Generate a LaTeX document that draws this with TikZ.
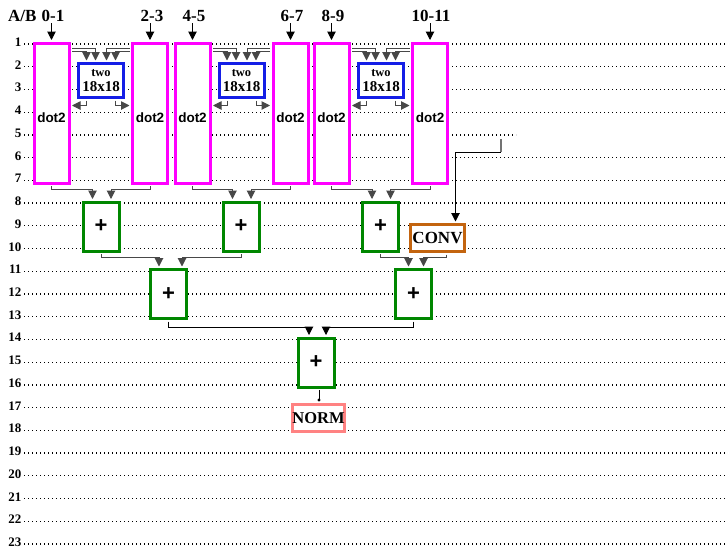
\documentclass[tikz,border=0pt]{standalone}
\usepackage{fontspec}
\setmainfont{Liberation Serif}
\newfontfamily\arialf{Liberation Sans}
\usetikzlibrary{arrows.meta,calc}
\definecolor{mag}{RGB}{255,0,255}
\definecolor{blu}{RGB}{20,30,230}
\definecolor{grn}{RGB}{0,135,0}
\definecolor{brn}{RGB}{195,100,15}
\definecolor{pnk}{RGB}{255,130,130}
\begin{document}
\begin{tikzpicture}[x=1pt,y=-1pt,
  boxbase/.style={line width=3pt,fill=white,inner sep=0pt},
  dotbox/.style={boxbase,draw=mag,minimum width=35pt,minimum height=140pt,text height=19pt,text depth=0pt,font=\arialf\bfseries\fontsize{13.5}{13.5}\selectfont},
  twobox/.style={boxbase,draw=blu,minimum width=45pt,minimum height=34pt,align=center,font=\bfseries},
  plusbox/.style={boxbase,draw=grn,minimum width=36pt,minimum height=49pt,font=\arialf\bfseries\fontsize{22}{22}\selectfont},
  convbox/.style={boxbase,draw=brn,minimum width=54pt,minimum height=27pt,font=\bfseries\fontsize{17}{17}\selectfont},
  normbox/.style={boxbase,draw=pnk,minimum width=52pt,minimum height=27pt,font=\bfseries\fontsize{16.5}{16.5}\selectfont},
  rowline/.style={line width=1.2pt,dash pattern=on 1.2pt off 2.8pt},
  rowlab/.style={anchor=base east,inner sep=0pt,font=\bfseries\fontsize{13}{13}\selectfont},
  hdr/.style={anchor=base,inner sep=0pt,font=\bfseries\fontsize{17}{17}\selectfont},
  conn/.style={draw=black!72,line width=1pt,shorten <=1.5pt},
  arr/.style={conn,-{Triangle[length=8.5pt,width=8.5pt]},shorten >=1.5pt},
]
\useasboundingbox (0,0) rectangle (725,547);
\fill[white] (0,0) rectangle (725,547);

% rows
\foreach \k in {1,...,23}{
  \pgfmathsetmacro\yy{44+(\k-1)*22.727}
  \node[rowlab] (r\k) at (21.5,\yy+2.5) {\k};
  \ifnum\k=5
    \draw[rowline] (24,\yy) -- (516,\yy);
  \else
    \draw[rowline] (24,\yy) -- (725,\yy);
  \fi
}

% headers
\node[hdr,anchor=base west] (hab) at (8,21) {A/B};
\node[hdr] (h1) at (53,21) {0-1};
\node[hdr] (h2) at (152,21) {2-3};
\node[hdr] (h3) at (194,21) {4-5};
\node[hdr] (h4) at (292,21) {6-7};
\node[hdr] (h5) at (333,21) {8-9};
\node[hdr] (h6) at (431,21) {10-11};

% dot2 boxes
\node[dotbox] (d1) at (51.5,113) {dot2};
\node[dotbox] (d2) at (150,113) {dot2};
\node[dotbox] (d3) at (192.5,113) {dot2};
\node[dotbox] (d4) at (290.5,113) {dot2};
\node[dotbox] (d5) at (331.5,113) {dot2};
\node[dotbox] (d6) at (430,113) {dot2};

% two 18x18 boxes
\node[twobox] (t1) at (101,80.5) {\fontsize{12.5}{12.5}\selectfont two\\[3.5pt]\fontsize{15}{15}\selectfont 18x18};
\node[twobox] (t2) at (241.5,80.5) {\fontsize{12.5}{12.5}\selectfont two\\[3.5pt]\fontsize{15}{15}\selectfont 18x18};
\node[twobox] (t3) at (381,80.5) {\fontsize{12.5}{12.5}\selectfont two\\[3.5pt]\fontsize{15}{15}\selectfont 18x18};

% adders
\node[plusbox] (p1) at (101,226.5) {+};
\node[plusbox] (p2) at (241,226.5) {+};
\node[plusbox] (p3) at (380.5,226.5) {+};
\node[plusbox] (p4) at (168.5,294) {+};
\node[plusbox] (p5) at (413.5,294) {+};
\node[plusbox] (p6) at (316,362.5) {+};
\node[convbox] (conv) at (437.5,238) {CONV};
\node[normbox] (norm) at (318.5,418) {NORM};

% input arrows
\foreach \i in {1,...,6}{
  \draw[arr,draw=black,shorten <=0pt] (d\i.north |- 0,23) -- (d\i.north);
}

% two-box connectors
\foreach \a/\t/\b in {d1/t1/d2,d3/t2/d4,d5/t3/d6}{
  \draw[arr] ($(\a.north east)+(0,6.5)$) -| ($(\t.north)+(-5.5,0)$);
  \draw[arr] ($(\a.north east)+(0,9.5)$) -| ($(\t.north)+(-14.5,0)$);
  \draw[arr] ($(\b.north west)+(0,6.5)$) -| ($(\t.north)+(5.5,0)$);
  \draw[arr] ($(\b.north west)+(0,9.5)$) -| ($(\t.north)+(14.5,0)$);
  \draw[arr] ($(\t.south)+(-14.5,0)$) |- ($(\a.north east)+(0,64)$);
  \draw[arr] ($(\t.south)+(14.5,0)$) |- ($(\b.north west)+(0,64)$);
}

% dot2 -> adders
\foreach \a/\p/\b in {d1/p1/d2,d3/p2/d4,d5/p3/d6}{
  \draw[arr] (\a.south) -- ++(0,4.5) -| ($(\p.north)+(-8.5,0)$);
  \draw[arr] (\b.south) -- ++(0,4.5) -| ($(\p.north)+(10,0)$);
}

% level 2
\draw[arr] (p1.south) -- ++(0,5) -| ($(p4.north)+(-9.5,0)$);
\draw[arr] (p2.south) -- ++(0,5) -| ($(p4.north)+(13.5,0)$);
\draw[arr] (p3.south) -- ++(0,5) -| ($(p5.north)+(-5,0)$);
\draw[arr] ($(conv.south)+(8.5,0)$) -- ++(0,4.5) -| ($(p5.north)+(10,0)$);

% level 3
\draw[arr,draw=black] (p4.south) -- ++(0,7.5) -| ($(p6.north)+(-7,0)$);
\draw[arr,draw=black] (p5.south) -- ++(0,7.5) -| ($(p6.north)+(10,0)$);

% to NORM
\coordinate (n1) at ($(p6.south)+(3,0)$);
\draw[conn,draw=black,line width=0.9pt,-{Circle[length=3pt]},shorten >=1.5pt] (n1) -- (n1 |- norm.north);

% CONV input
\coordinate (c5) at (501,139);
\draw[conn,draw=black!55,line width=1.3pt,shorten <=0pt] (c5) -- ++(0,13) coordinate (c5b);
\draw[arr,draw=black,shorten <=0pt] (c5b) -| ($(conv.north)+(18,0)$);
\end{tikzpicture}
\end{document}
